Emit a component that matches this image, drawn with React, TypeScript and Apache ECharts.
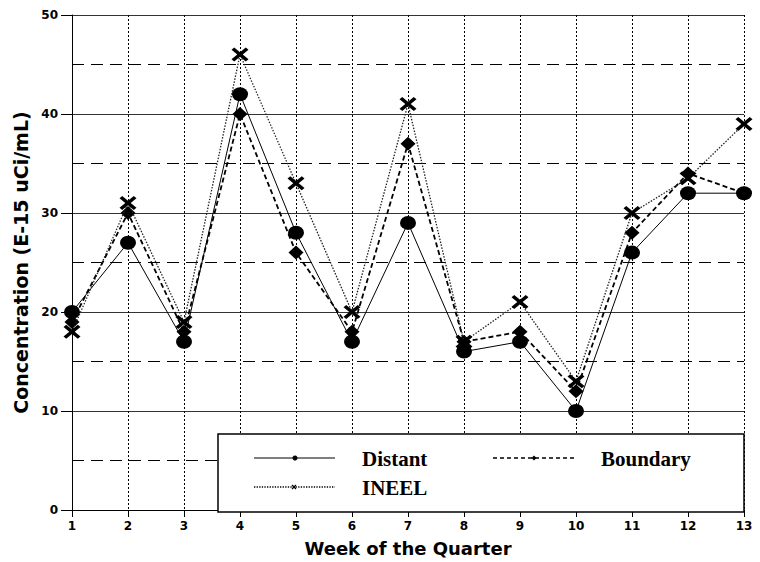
import React, { useEffect, useRef } from "react";
import * as echarts from "echarts";

const weeks = ["1", "2", "3", "4", "5", "6", "7", "8", "9", "10", "11", "12", "13"];
const distant = [20, 27, 17, 42, 28, 17, 29, 16, 17, 10, 26, 32, 32];
const boundary = [19, 30, 18, 40, 26, 18, 37, 17, 18, 12, 28, 34, 32];
const ineel = [18, 31, 19, 46, 33, 20, 41, 17, 21, 13, 30, 33.5, 39];
const seriesNames = ["Distant", "Boundary", "INEEL"];

const ELLIPSE = "path://M0,5A5,5 0 1,0 10,5A5,5 0 1,0 0,5Z";
const XMARK =
  "path://M0,1.6L1.6,0L5,3.4L8.4,0L10,1.6L6.6,5L10,8.4L8.4,10L5,6.6L1.6,10L0,8.4L3.4,5Z";

export default function App() {
  const ref = useRef<HTMLDivElement>(null);
  useEffect(() => {
    if (!ref.current) return;
    const chart = echarts.init(ref.current, null, { renderer: "svg" });
    const serif = "'Liberation Serif', 'Times New Roman', serif";
    const sans = "'DejaVu Sans', sans-serif";
    const legendText = (x: number, y: number, t: string) => ({
      type: "text",
      z: 101,
      x,
      y,
      style: {
        text: t,
        fontFamily: serif,
        fontWeight: "bold",
        fontSize: 21,
        fill: "#000",
        verticalAlign: "middle",
        align: "left",
      },
    });
    chart.setOption({
      animation: false,
      backgroundColor: "#fff",
      grid: { left: 72, right: 16, top: 15, bottom: 50, containLabel: false },
      xAxis: {
        type: "category",
        data: weeks,
        boundaryGap: false,
        name: "Week of the Quarter",
        nameLocation: "middle",
        nameGap: 29,
        nameTextStyle: { fontFamily: sans, fontWeight: "bold", fontSize: 18, color: "#000" },
        axisLine: { show: true, lineStyle: { color: "#000", width: 1 } },
        axisTick: { show: true, length: 7, interval: 0, lineStyle: { color: "#000" } },
        axisLabel: {
          interval: 0,
          margin: 10,
          fontFamily: sans,
          fontWeight: "bold",
          fontSize: 12,
          color: "#000",
        },
        splitLine: {
          show: true,
          interval: 0,
          lineStyle: { color: "#000", width: 1, type: [2, 2] },
        },
      },
      yAxis: {
        type: "value",
        min: 0,
        max: 50,
        interval: 10,
        name: "Concentration (E-15 uCi/mL)",
        nameLocation: "middle",
        nameGap: 40,
        nameTextStyle: {
          fontFamily: sans,
          fontWeight: "bold",
          fontSize: 19,
          color: "#000",
        },
        axisLine: { show: true, lineStyle: { color: "#000", width: 1 } },
        axisTick: { show: true, length: 11, lineStyle: { color: "#000" } },
        axisLabel: {
          margin: 14,
          fontFamily: sans,
          fontWeight: "bold",
          fontSize: 12,
          color: "#000",
        },
        splitLine: { show: true, lineStyle: { color: "#333", width: 1 } },
        minorTick: { show: false, splitNumber: 2 },
        minorSplitLine: {
          show: true,
          lineStyle: { color: "#000", width: 1, type: [12, 7] },
        },
      },
      series: [
        {
          name: seriesNames[0],
          type: "line",
          data: distant,
          symbol: ELLIPSE,
          symbolSize: [16, 14],
          showAllSymbol: true,
          lineStyle: { color: "#000", width: 1, type: "solid" },
          itemStyle: { color: "#000" },
          z: 3,
        },
        {
          name: seriesNames[1],
          type: "line",
          data: boundary,
          symbol: "diamond",
          symbolSize: [15, 14],
          showAllSymbol: true,
          lineStyle: { color: "#000", width: 1.8, type: [5, 3] },
          itemStyle: { color: "#000" },
          z: 4,
        },
        {
          name: seriesNames[2],
          type: "line",
          data: ineel,
          symbol: XMARK,
          symbolSize: [17, 14],
          showAllSymbol: true,
          lineStyle: { color: "#222", width: 1.3, type: [1.5, 1.5] },
          itemStyle: { color: "#000" },
          z: 5,
        },
      ],
      graphic: [
        {
          type: "rect",
          z: 100,
          shape: { x: 218, y: 434, width: 526, height: 78 },
          style: { fill: "#fff", stroke: "#000", lineWidth: 1.5 },
        },
        {
          type: "line",
          z: 101,
          shape: { x1: 254, y1: 458, x2: 335, y2: 458 },
          style: { stroke: "#555", lineWidth: 1.3 },
        },
        { type: "circle", z: 102, shape: { cx: 295, cy: 458, r: 2.5 }, style: { fill: "#000" } },
        legendText(362, 459, seriesNames[0]),
        {
          type: "line",
          z: 101,
          shape: { x1: 493, y1: 458, x2: 575, y2: 458 },
          style: { stroke: "#000", lineWidth: 1.3, lineDash: [4, 3] },
        },
        {
          type: "polygon",
          z: 102,
          shape: { points: [[534, 455.5], [536.5, 458], [534, 460.5], [531.5, 458]] },
          style: { fill: "#000" },
        },
        legendText(601, 459, seriesNames[1]),
        {
          type: "line",
          z: 101,
          shape: { x1: 254, y1: 487, x2: 335, y2: 487 },
          style: { stroke: "#000", lineWidth: 1.3, lineDash: [1.3, 1.3] },
        },
        {
          type: "polyline",
          z: 102,
          shape: { points: [[292, 485], [296, 489]] },
          style: { stroke: "#000", lineWidth: 1.2 },
        },
        {
          type: "polyline",
          z: 102,
          shape: { points: [[296, 485], [292, 489]] },
          style: { stroke: "#000", lineWidth: 1.2 },
        },
        legendText(362, 488, seriesNames[2]),
      ],
    });
    return () => chart.dispose();
  }, []);
  return (
    <div
      ref={ref}
      style={{ position: "absolute", left: 0, top: 0, width: 760, height: 562, background: "#fff" }}
    />
  );
}
